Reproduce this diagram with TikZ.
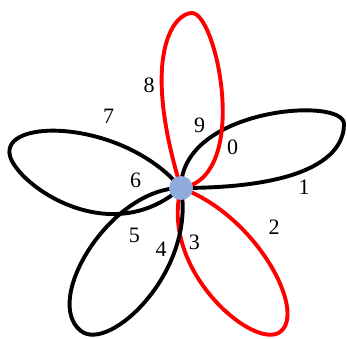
\documentclass[tikz,border=0pt]{standalone}
\usepackage{fontspec}
\setmainfont{Liberation Serif}
\usetikzlibrary{backgrounds}
\definecolor{vblue}{RGB}{143,170,220}

\begin{document}
\begin{tikzpicture}[x=1pt, y=1pt,
  vertex/.style={circle, fill=vblue, minimum size=24pt, inner sep=0pt},
  petal/.style={line width=3.9pt},
  lbl/.style={font=\fontsize{22}{26}\selectfont, inner sep=0pt}]
\useasboundingbox (-181,-150) rectangle (166,188);
\node[vertex] (v) at (0,0) {};
% tips of the five petals
\coordinate (tR) at (163,64);
\coordinate (tLR) at (99,-144);
\coordinate (tLL) at (-100,-143);
\coordinate (tL) at (-171,32);
\coordinate (tT) at (11,175);
\begin{scope}[on background layer]
\draw[petal] (v.center) .. controls +(90:80) and +(90:28) .. (tR)
  .. controls +(-90:30) and +(0:130) .. (v.center);
\draw[petal, red] (v.center) .. controls +(-20:80) and +(36:34) .. (tLR)
  .. controls +(-144:32) and +(-105:85) .. (v.center);
\draw[petal] (v.center) .. controls +(180:70) and +(142:50) .. (tLL)
  .. controls +(-38:36) and +(-80:85) .. (v.center);
\draw[petal] (v.center) .. controls +(130:90) and +(105:40) .. (tL)
  .. controls +(-75:30) and +(-139:95) .. (v.center);
\draw[petal, red] (v.center) .. controls +(107:140) and +(180:18) .. (tT)
  .. controls +(0:25) and +(8:71) .. (v.center);
\end{scope}
% edge labels
\node[lbl] (l0) at (51.7,40.3) {0};
\node[lbl] (l1) at (123,0.7) {1};
\node[lbl] (l2) at (93,-39.7) {2};
\node[lbl] (l3) at (13.3,-54.3) {3};
\node[lbl] (l4) at (-20,-61.3) {4};
\node[lbl] (l5) at (-46.7,-47.3) {5};
\node[lbl] (l6) at (-45.3,7.3) {6};
\node[lbl] (l7) at (-72.3,72) {7};
\node[lbl] (l8) at (-32,103) {8};
\node[lbl] (l9) at (18.7,63) {9};
\end{tikzpicture}
\end{document}
